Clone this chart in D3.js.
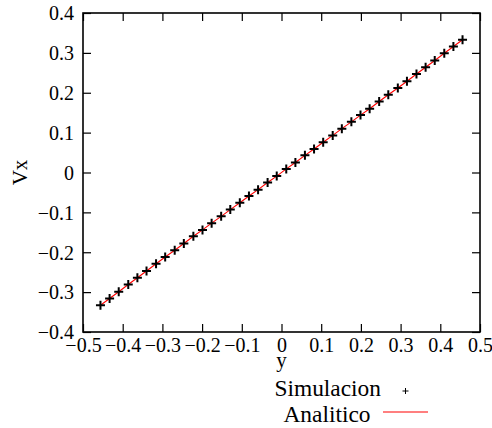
<!DOCTYPE html>
<html>
<head>
<meta charset="utf-8">
<script src="https://cdn.jsdelivr.net/npm/d3@7/dist/d3.min.js"></script>
<style>
  html, body { margin: 0; padding: 0; background: #fff; }
</style>
</head>
<body>
<svg id="chart" width="492" height="428"></svg>
<script>
// ---- data ----
const yPos = [-0.456, -0.433, -0.410, -0.386, -0.363, -0.340, -0.316, -0.293, -0.269, -0.246,
              -0.222, -0.199, -0.176, -0.152, -0.129, -0.105, -0.082, -0.059, -0.035, -0.012,
               0.012,  0.035,  0.059,  0.082,  0.105,  0.129,  0.152,  0.176,  0.199,  0.222,
               0.246,  0.269,  0.293,  0.316,  0.340,  0.363,  0.386,  0.410,  0.433,  0.456];
const vxSimulacion = [-0.333, -0.316, -0.299, -0.281, -0.264, -0.247, -0.229, -0.212, -0.195, -0.178,
                      -0.160, -0.144, -0.127, -0.110, -0.093, -0.076, -0.059, -0.043, -0.025, -0.009,
                       0.009,  0.025,  0.043,  0.059,  0.076,  0.093,  0.110,  0.127,  0.144,  0.160,
                       0.178,  0.195,  0.212,  0.229,  0.247,  0.264,  0.281,  0.299,  0.316,  0.333];
const vxAnalitico = [-0.333, -0.316, -0.299, -0.281, -0.264, -0.247, -0.229, -0.212, -0.195, -0.178,
                     -0.160, -0.144, -0.127, -0.110, -0.093, -0.076, -0.059, -0.043, -0.025, -0.009,
                      0.009,  0.025,  0.043,  0.059,  0.076,  0.093,  0.110,  0.127,  0.144,  0.160,
                      0.178,  0.195,  0.212,  0.229,  0.247,  0.264,  0.281,  0.299,  0.316,  0.333];
const xTicks = [-0.5, -0.4, -0.3, -0.2, -0.1, 0, 0.1, 0.2, 0.3, 0.4, 0.5];
const yTicks = [-0.4, -0.3, -0.2, -0.1, 0, 0.1, 0.2, 0.3, 0.4];
const xLabel = "y";
const yLabel = "Vx";
const legendNames = ["Simulacion", "Analitico"];

// ---- layout ----
const FONT = '"Liberation Serif", "Tinos", "Times New Roman", serif';
const svg = d3.select("#chart");
const L = 83, R = 480, T = 13, B = 332;
const x = d3.scaleLinear().domain([-0.5, 0.5]).range([L, R]);
const y = d3.scaleLinear().domain([-0.4, 0.4]).range([B, T]);
const fmt = v => (v === 0 ? "0" : d3.format(".1f")(v).replace("-", "\u2212"));
const tickFs = 20, labFs = 21, legFs = 23.4;

// axes (ticks pointing inward)
const gx = svg.append("g").attr("transform", `translate(0,${B})`)
  .call(d3.axisBottom(x).tickValues(xTicks).tickFormat(fmt).tickSize(-8).tickPadding(5.5));
const gxt = svg.append("g").attr("transform", `translate(0,${T})`)
  .call(d3.axisTop(x).tickValues(xTicks).tickFormat("").tickSize(-8));
const gy = svg.append("g").attr("transform", `translate(${L},0)`)
  .call(d3.axisLeft(y).tickValues(yTicks).tickFormat(fmt).tickSize(-8).tickPadding(9));
const gyr = svg.append("g").attr("transform", `translate(${R},0)`)
  .call(d3.axisRight(y).tickValues(yTicks).tickFormat("").tickSize(-8));
[gx, gxt, gy, gyr].forEach(g => {
  g.select(".domain").remove();
  g.attr("font-family", null).attr("font-size", null);
  g.selectAll(".tick line").attr("stroke", "#000").attr("stroke-width", 1.2);
  g.selectAll("text").style("font-family", FONT).style("font-size", tickFs + "px").attr("fill", "#000");
});
gx.selectAll("text").attr("dy", "0.71em");
gy.selectAll("text").attr("dy", "0.34em");

// frame
svg.append("rect").attr("x", L).attr("y", T).attr("width", R - L).attr("height", B - T)
  .attr("fill", "none").attr("stroke", "#000").attr("stroke-width", 1.6);

// analytic line
const pts = yPos.map((v, i) => [v, vxAnalitico[i]]);
svg.append("path").datum(pts)
  .attr("d", d3.line().x(d => x(d[0])).y(d => y(d[1])))
  .attr("fill", "none").attr("stroke", "#ff0000").attr("stroke-width", 1.1);

// simulation points (plus markers)
const ps = 4.5;
const gp = svg.append("g");
yPos.forEach((v, i) => {
  const cx = x(v), cy = y(vxSimulacion[i]);
  gp.append("path")
    .attr("d", `M${cx - ps},${cy}H${cx + ps}M${cx},${cy - ps}V${cy + ps}`)
    .attr("stroke", "#000").attr("stroke-width", 2).attr("fill", "none");
});

const txt = (sel) => sel.style("font-family", FONT).attr("fill", "#000");

// axis labels
txt(svg.append("text")).attr("x", x(0)).attr("y", 367).attr("text-anchor", "middle")
  .style("font-size", labFs + "px").text(xLabel);
txt(svg.append("text")).attr("transform", "translate(27,172.5) rotate(-90)").attr("text-anchor", "middle")
  .style("font-size", labFs + "px").text(yLabel);

// legend
txt(svg.append("text")).attr("x", 381).attr("y", 396).attr("text-anchor", "end")
  .style("font-size", legFs + "px").text(legendNames[0]);
svg.append("path").attr("d", `M${405.5 - 3},391H${405.5 + 3}M405.5,${391 - 3}V${391 + 3}`)
  .attr("stroke", "#000").attr("stroke-width", 1).attr("fill", "none");
txt(svg.append("text")).attr("x", 370.5).attr("y", 421.5).attr("text-anchor", "end")
  .style("font-size", legFs + "px").text(legendNames[1]);
svg.append("line").attr("x1", 383).attr("x2", 428).attr("y1", 412).attr("y2", 412)
  .attr("stroke", "#ff0000").attr("stroke-width", 1.1);
</script>
</body>
</html>
